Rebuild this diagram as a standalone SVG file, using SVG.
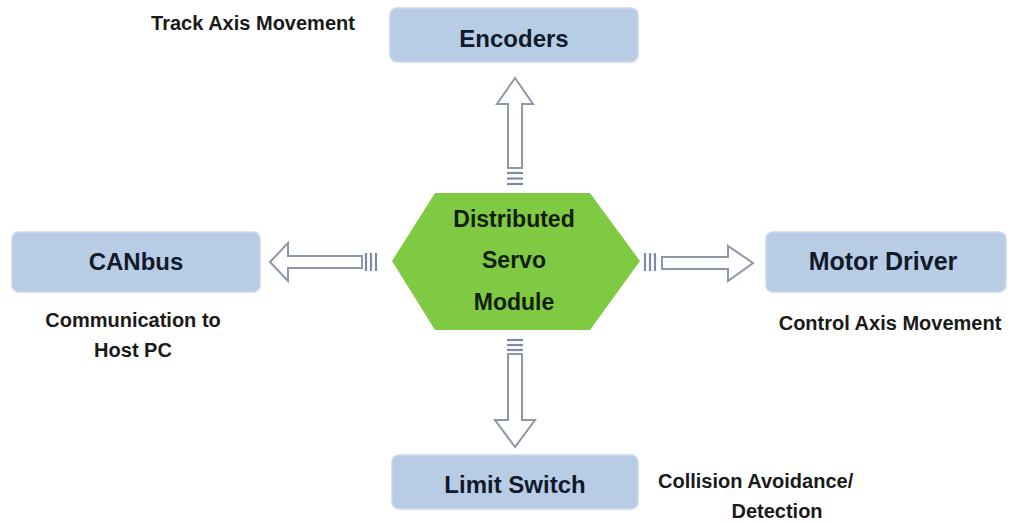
<svg xmlns="http://www.w3.org/2000/svg" width="1011" height="523" viewBox="0 0 1011 523">
<style>
.box{fill:#b9cce6;stroke:#cad8ec;stroke-width:1.5}
.bt{font-family:"Liberation Sans",Arial,sans-serif;font-weight:bold;font-size:24px;fill:#111a2a;text-anchor:middle}
.lt{font-family:"Liberation Sans",Arial,sans-serif;font-weight:bold;font-size:20px;fill:#1a1a1a}
.ht{font-family:"Liberation Sans",Arial,sans-serif;font-weight:bold;font-size:23px;fill:#10200a;text-anchor:middle}
.arr{fill:#ffffff;stroke:#8c97a8;stroke-width:2;stroke-linejoin:miter}
.bar{stroke:#7d8ba0;stroke-width:2.2}
</style>
<rect width="1011" height="523" fill="#ffffff"/>
<g id="encoders">
<rect class="box" x="390" y="8" width="248" height="54" rx="7"/>
<text class="bt" x="514" y="47">Encoders</text>
</g>
<g id="canbus">
<rect class="box" x="12" y="232" width="248" height="60" rx="7"/>
<text class="bt" x="136" y="270">CANbus</text>
</g>
<g id="motor-driver">
<rect class="box" x="766" y="232" width="240" height="60" rx="7"/>
<text class="bt" x="883" y="270" style="font-size:25px">Motor Driver</text>
</g>
<g id="limit-switch">
<rect class="box" x="392" y="455" width="246" height="54" rx="7"/>
<text class="bt" x="515" y="493">Limit Switch</text>
</g>
<g id="servo-module">
<polygon points="392,261 435,193 590,193 640,261 590,330 435,330" fill="#80c942"/>
<text class="ht" x="514" y="227">Distributed</text>
<text class="ht" x="514" y="268">Servo</text>
<text class="ht" x="514" y="310">Module</text>
</g>
<g id="labels">
<text class="lt" x="253" y="30" text-anchor="middle">Track Axis Movement</text>
<text class="lt" x="133" y="327" text-anchor="middle">Communication to</text>
<text class="lt" x="133" y="357" text-anchor="middle">Host PC</text>
<text class="lt" x="890" y="330" text-anchor="middle">Control Axis Movement</text>
<text class="lt" x="658" y="488">Collision Avoidance/</text>
<text class="lt" x="777" y="518" text-anchor="middle">Detection</text>
</g>
<g id="connectors">
<polygon class="arr" points="515,78 497,104 508,104 508,168 522,168 522,104 533,104"/>
<line class="bar" x1="507" y1="173" x2="523" y2="173"/>
<line class="bar" x1="507" y1="178.5" x2="523" y2="178.5"/>
<line class="bar" x1="507" y1="184" x2="523" y2="184"/>
<polygon class="arr" points="515,447 495,420 508,420 508,354 522,354 522,420 535,420"/>
<line class="bar" x1="507" y1="340" x2="523" y2="340"/>
<line class="bar" x1="507" y1="345" x2="523" y2="345"/>
<line class="bar" x1="507" y1="350" x2="523" y2="350"/>
<polygon class="arr" points="270,262 288,243 288,256 362,256 362,268 288,268 288,281"/>
<line class="bar" x1="366" y1="253" x2="366" y2="271"/>
<line class="bar" x1="371" y1="253" x2="371" y2="271"/>
<line class="bar" x1="376" y1="253" x2="376" y2="271"/>
<polygon class="arr" points="753,263 728,246 728,257 662,257 662,269 728,269 728,281"/>
<line class="bar" x1="645" y1="253" x2="645" y2="271"/>
<line class="bar" x1="650" y1="253" x2="650" y2="271"/>
<line class="bar" x1="655" y1="253" x2="655" y2="271"/>
</g>
</svg>
